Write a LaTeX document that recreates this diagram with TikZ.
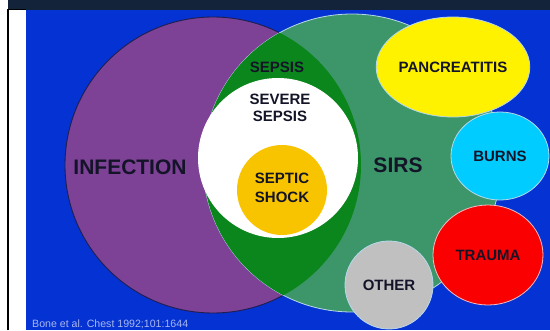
\documentclass[tikz,border=0pt]{standalone}
\usepackage{fontspec}
\setmainfont{Liberation Sans}
\usetikzlibrary{shapes.geometric}
\definecolor{bgblue}{HTML}{0532D2}
\definecolor{navy}{HTML}{13233A}
\definecolor{infpurple}{HTML}{7D4196}
\definecolor{infrim}{HTML}{1E1E50}
\definecolor{sirsgreen}{HTML}{3C9669}
\definecolor{lensgreen}{HTML}{0A861C}
\definecolor{shockyellow}{HTML}{F8C400}
\definecolor{txtdark}{HTML}{141428}
\definecolor{citeblue}{HTML}{A8B8F0}
\definecolor{rimlight}{HTML}{B8D8EC}
\tikzset{
  lbl/.style={font=\fontsize{15}{17}\selectfont\bfseries, text=txtdark, align=center, inner sep=0pt},
  biglbl/.style={font=\fontsize{21}{23}\selectfont\bfseries, text=txtdark, inner sep=0pt},
  blob/.style={ellipse, draw=rimlight, line width=0.8pt, inner sep=0pt, font=\fontsize{15}{17}\selectfont\bfseries, text=txtdark},
}
\begin{document}
\begin{tikzpicture}[x=1pt,y=-1pt]
\useasboundingbox (0,0) rectangle (550,330);
% frame
\fill[white] (0,0) rectangle (550,330);
\fill[navy] (8,0) rectangle (550,9.5);
\fill[bgblue] (26,9.5) rectangle (550,330);
\draw[black, line width=1.6pt] (8,330) -- (8,9.5) -- (26,9.5);
% main circles
\fill[infpurple] (213,165) circle (148);
\draw[infrim, line width=0.9pt] (213,165) circle (148);
\fill[sirsgreen] (352,163) circle (149);
\draw[rimlight, line width=0.8pt] (352,163) circle (149);
\begin{scope}
  \clip (213,165) circle (148);
  \fill[lensgreen] (352,163) circle (149);
\end{scope}
\fill[white] (278,158) circle (80);
\fill[shockyellow] (282,190) circle (45);
% satellite ellipses
\node[blob, fill=yellow, minimum width=125, minimum height=100] (panc) at (453,67) {PANCREATITIS};
\node[blob, fill={rgb,255:red,0;green,204;blue,255}, minimum width=98, minimum height=88] (burns) at (500,156) {BURNS};
\node[blob, fill={rgb,255:red,250;green,0;blue,0}, draw={rgb,255:red,240;green,190;blue,200}, minimum width=110, minimum height=100] (trauma) at (488,255) {TRAUMA};
\node[blob, fill={rgb,255:red,192;green,192;blue,192}, minimum width=88, minimum height=88] (other) at (389,285) {OTHER};
% labels
\node[biglbl] (infection) at (130,167) {INFECTION};
\node[biglbl] (sirs) at (398,165) {SIRS};
\node[lbl] (sepsis) at (277,67) {SEPSIS};
\node[lbl] (severe) at (280,108) {SEVERE\\SEPSIS};
\node[lbl] (shock) at (282,188) {SEPTIC\\[2pt]SHOCK};
\node[anchor=base west, inner sep=0pt, font=\fontsize{10.6}{12}\selectfont, text=citeblue] (cite) at (32,327) {Bone et al. Chest 1992;101:1644};
\end{tikzpicture}
\end{document}
